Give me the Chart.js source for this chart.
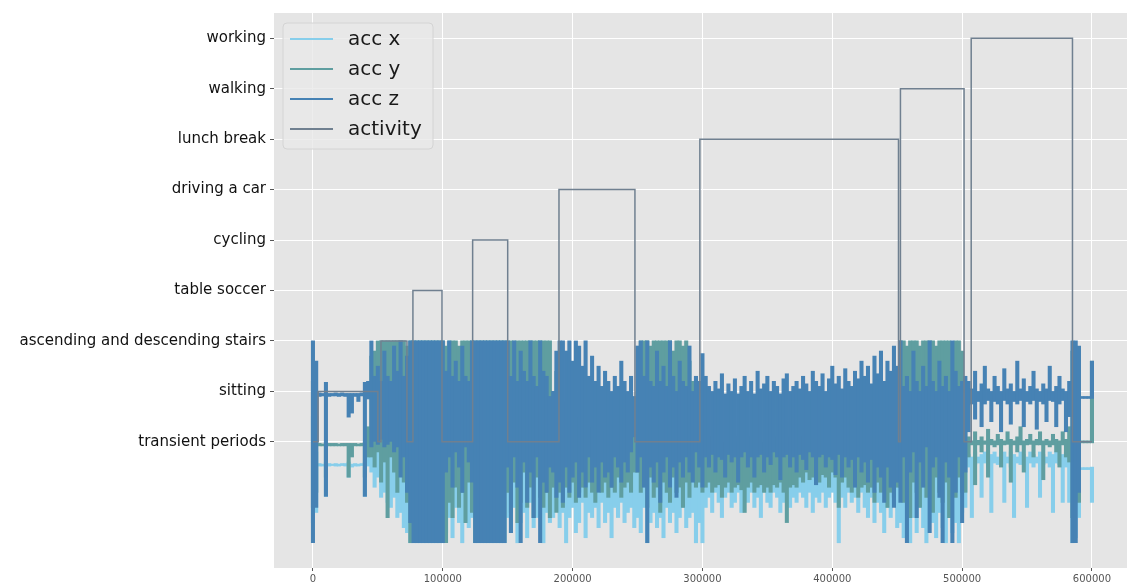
<!DOCTYPE html>
<html>
<head>
<meta charset="utf-8">
<script src="https://cdn.jsdelivr.net/npm/chart.js@4"></script>
<style>
  html, body { margin: 0; padding: 0; background: #ffffff; }
  #wrap { width: 1127px; height: 585px; position: relative; }
</style>
</head>
<body>
<div id="wrap"><canvas id="chart"></canvas></div>
<script>
// y tick labels (activity codes 0..8)
const activityNames = [
  "transient periods", "sitting", "ascending and descending stairs",
  "table soccer", "cycling", "driving a car", "lunch break", "walking", "working"
];
const xTicks = [0, 100000, 200000, 300000, 400000, 500000, 600000];

// the raw signal is far denser than the pixels, so each series is kept as
// min / max per block of 2500 rows
const sampleStep = 2500;

const xLow = [
  -1.6, -1.4,
  -0.48, -0.48, -1.08, -0.48, -0.47, -0.48, -0.48, -0.47, -0.48, -0.7, -0.5, -0.48, -0.48, -0.47, -1.08, -0.48,
  -0.6, -0.9, -0.7, -1.1, -1.0, -1.2, -1.3, -1.1, -1.5, -1.4, -1.7, -1.8,
  -2.0, -2.0, -2.0, -2.0, -2.0, -2.0, -2.0, -2.0, -2.0, -2.0,
  -2.0, -1.8, -1.5, -1.9, -1.3, -1.6, -2.0, -1.4, -1.7, -1.5,
  -2.0, -2.0, -2.0, -2.0, -2.0, -2.0, -2.0, -2.0, -2.0, -2.0,
  -1.5, -1.8, -1.3, -2.0, -1.6, -1.4, -1.9, -1.2, -1.7, -1.5, -1.3, -2.0, -1.4, -1.6, -1.5, -1.3,
  -1.7, -1.4, -2.0, -1.5, -1.3, -1.8, -1.6, -1.2, -1.9, -1.4, -1.5, -1.3,
  -1.7, -1.2, -1.6, -1.4, -1.9, -1.3, -1.5, -1.2, -1.6, -1.4, -1.3, -1.7,
  -1.5, -1.8, -1.3, -2.0, -1.6, -1.4, -1.7, -1.5, -1.9, -1.3,
  -1.6, -1.4, -1.8, -1.5, -1.3, -1.7, -1.5, -1.4, -2.0, -1.6,
  -2.0, -1.3, -1.1, -1.4, -1.0, -1.2, -1.5, -1.1, -1.0, -1.3,
  -1.2, -1.0, -1.4, -1.1, -1.2, -1.0, -1.3, -1.1, -1.5, -1.0,
  -1.2, -1.3, -1.0, -1.1, -1.4, -1.2, -1.0, -1.3, -1.1, -1.2,
  -1.0, -1.1, -1.3, -1.0, -1.4, -1.1, -1.2, -1.0, -1.3, -1.1,
  -1.0, -1.2, -2.0, -1.1, -1.3, -1.0, -1.2, -1.1, -1.4, -1.0,
  -1.3, -1.5, -1.1, -1.6, -1.2, -1.4, -1.8, -1.3, -1.5, -1.2, -1.7,
  -1.6, -1.9, -1.4, -2.0, -1.5, -1.8, -1.3, -1.7, -2.0, -1.5,
  -1.6, -1.9, -1.4, -1.7, -2.0, -1.5, -1.8, -1.6, -2.0, -1.4,
  -1.3, -0.5, -1.5, -0.45, -0.42, -1.1, -0.42, -0.5, -1.4, -0.42, -0.45,
  -0.42, -1.2, -0.42, -0.5, -1.5, -0.42, -0.45, -0.42, -1.3, -0.42, -0.5,
  -0.42, -1.1, -0.45, -0.42, -0.5, -1.4, -0.42, -0.45, -1.2, -0.5, -1.2,
  -2.0, -1.9, -1.5,
  -0.55, -0.55, -0.55, -1.2
];
const xHigh = [
  0.5, -0.2,
  -0.43, -0.44, -0.4, -0.43, -0.44, -0.43, -0.44, -0.43, -0.43, -0.4, -0.44, -0.43, -0.44, -0.43, -0.4, -0.3,
  0.0, 0.1, 0.0, -0.1, 0.0, 0.05, 0.0, -0.1, 0.0, 0.0, 0.1, 0.0,
  0.5, 0.5, 0.5, 0.5, 0.5, 0.5, 0.5, 0.5, 0.5, 0.5,
  0.0, 0.0, 0.0, 0.0, 0.0, 0.0, 0.0, 0.0, 0.0, 0.0,
  0.5, 0.5, 0.5, 0.5, 0.5, 0.5, 0.5, 0.5, 0.5, 0.5,
  0.0, -0.2, 0.0, -0.1, 0.0, -0.2, 0.0, -0.1, 0.0, -0.2, 0.0, -0.1, 0.0, -0.2, 0.0, -0.1,
  -0.3, -0.2, -0.4, -0.3, -0.2, -0.3, -0.4, -0.3, -0.2, -0.3, -0.4, -0.3,
  -0.2, -0.3, -0.4, -0.3, -0.2, -0.3, -0.4, -0.3, -0.2, -0.3, -0.4, -0.3,
  -0.2, -0.1, -0.3, -0.2, -0.1, -0.2, -0.3, -0.2, -0.1, -0.2,
  -0.3, -0.2, -0.1, -0.2, -0.3, -0.2, -0.1, -0.2, -0.3, -0.2,
  -0.4, -0.3, -0.4, -0.5, -0.4, -0.3, -0.4, -0.5, -0.4, -0.3,
  -0.4, -0.5, -0.4, -0.3, -0.4, -0.5, -0.4, -0.3, -0.4, -0.5,
  -0.4, -0.3, -0.4, -0.5, -0.4, -0.3, -0.4, 0.0, 0.1, -0.1,
  0.0, 0.1, 0.0, -0.1, 0.1, 0.0, -0.1, 0.0, 0.1, 0.0,
  -0.1, 0.0, 0.1, -0.1, -0.3, -0.4, -0.3, -0.2, -0.3, -0.4,
  -0.3, -0.2, -0.3, -0.4, -0.3, -0.2, -0.3, -0.4, -0.3, -0.2, -0.3,
  -0.2, -0.2, -0.3, -0.2, -0.2, -0.2, -0.3, -0.2, -0.2, -0.2,
  -0.3, -0.2, -0.2, -0.2, -0.3, -0.2, -0.2, -0.2, -0.3, -0.2,
  -0.2, -0.25, -0.3, -0.2, -0.3, -0.25, -0.2, -0.3, -0.25, -0.2, -0.3,
  -0.25, -0.2, -0.3, -0.2, -0.25, -0.3, -0.2, -0.25, -0.3, -0.2, -0.25,
  -0.3, -0.2, -0.25, -0.3, -0.2, -0.25, -0.2, -0.3, -0.25, -0.2, -0.3,
  0.3, 0.0, -0.2,
  -0.51, -0.51, -0.51, -0.5
];

const yLow = [
  -1.3, -1.0,
  -0.08, -0.08, -0.7, -0.08, -0.08, -0.08, -0.08, -0.08, -0.08, -0.7, -0.3, -0.08, -0.08, -0.08, -0.7, -0.3,
  -0.3, -0.5, -0.2, -0.8, -0.4, -1.5, -0.3, -0.6, -1.0, -0.5, -0.8, -1.2,
  -2.0, -2.0, -2.0, -2.0, -2.0, -2.0, -2.0, -2.0, -2.0, -2.0,
  -2.0, -2.0, -1.2, -1.5, -0.9, -1.3, -1.0, -1.6, -0.8, -1.4,
  -2.0, -2.0, -2.0, -2.0, -2.0, -2.0, -2.0, -2.0, -2.0, -2.0,
  -1.0, -1.4, -0.8, -1.6, -1.2, -0.6, -1.3, -0.9, -1.5, -0.7, -1.1, -1.3, -1.0, -1.5, -0.9, -1.4,
  -1.0, -1.3, -0.9, -1.1, -0.8, -1.2, -1.0, -0.9, -1.1, -0.8, -1.0, -1.2,
  -0.9, -1.0, -0.8, -1.1, -0.9, -1.0, -0.7, -1.1, -0.9, -0.8, -1.0, -0.6,
  -0.6, -1.0, -0.8, -1.3, -0.7, -1.1, -0.9, -1.4, -0.8, -1.0,
  -1.2, -0.7, -1.0, -0.9, -1.3, -0.8, -1.1, -0.7, -0.9, -0.8,
  -1.0, -0.9, -0.8, -1.0, -0.9, -0.85, -1.1, -0.9, -0.8, -1.0,
  -0.9, -0.85, -0.95, -1.4, -0.9, -0.8, -1.0, -0.9, -0.85, -1.0,
  -0.9, -1.0, -0.85, -0.9, -0.8, -1.0, -1.6, -0.9, -0.85, -0.9,
  -0.7, -0.8, -0.6, -0.75, -0.7, -0.6, -0.8, -0.65, -0.7, -0.9,
  -0.6, -0.7, -1.3, -0.8, -0.7, -0.9, -1.0, -0.8, -1.1, -0.9,
  -0.85, -1.0, -0.9, -1.2, -0.8, -1.0, -0.9, -1.3, -1.0, -1.1, -0.9,
  -0.9, -1.2, -0.7, -1.5, -0.8, -1.0, -1.3, -0.6, -1.1, -0.9,
  -1.4, -0.7, -1.0, -1.2, -0.8, -1.5, -0.9, -1.1, -0.7, -1.0,
  -1.0, -0.3, -0.06, -0.85, -0.06, -0.2, -0.05, -0.7, -0.06, -0.1, -0.06,
  -0.5, -0.06, -0.05, -0.8, -0.06, -0.2, -0.06, -0.6, -0.06, -0.05, -0.3,
  -0.06, -0.06, -0.75, -0.06, -0.1, -0.06, -0.2, -0.5, -0.06, -0.3, -0.4,
  -1.5, -1.0, -1.2,
  -0.02, -0.02, -0.02, -0.02
];
const yHigh = [
  1.2, 0.5,
  -0.03, -0.04, 0.0, -0.03, -0.03, -0.03, -0.04, -0.03, -0.03, -0.03, -0.03, -0.03, -0.04, -0.03, 0.0, 0.3,
  1.7, 1.8, 2.0, 2.0, 2.0, 2.0, 2.0, 2.0, 2.0, 2.0, 2.0, 1.9,
  2.0, 2.0, 2.0, 2.0, 2.0, 2.0, 2.0, 2.0, 2.0, 2.0,
  2.0, 1.9, 2.0, 2.0, 2.0, 1.9, 2.0, 2.0, 2.0, 2.0,
  2.0, 2.0, 2.0, 2.0, 2.0, 2.0, 2.0, 2.0, 2.0, 2.0,
  2.0, 2.0, 2.0, 2.0, 2.0, 2.0, 2.0, 2.0, 2.0, 2.0, 2.0, 2.0, 2.0, 2.0, 1.0, 1.4,
  0.6, 0.8, 0.5, 0.4, 0.6, 0.3, 0.5, 0.2, 0.4, 0.3, 0.2, 0.4,
  0.3, 0.1, 0.2, 0.3, 0.0, 0.2, 0.1, 0.3, 0.2, 0.0, 0.3, 0.5,
  1.0, 2.0, 2.0, 2.0, 1.9, 2.0, 2.0, 2.0, 2.0, 2.0,
  2.0, 1.8, 2.0, 2.0, 1.9, 2.0, 1.6, 1.2, 0.8, 0.5,
  0.1, 0.0, 0.1, -0.1, 0.0, 0.1, 0.0, -0.1, 0.1, 0.0,
  0.0, 0.1, -0.1, 0.0, 0.1, 0.0, 0.0, 0.1, -0.1, 0.0,
  0.1, 0.0, 0.0, 0.1, -0.1, 0.0, 0.1, 0.0, 0.0, 0.1,
  0.0, 0.1, 0.2, 0.0, 0.1, 0.2, 0.3, 0.1, 0.2, 0.0,
  0.2, 0.1, 0.3, 0.0, 0.1, 0.2, 0.0, 0.1, 0.2, 0.0,
  0.1, 0.0, 0.2, 0.1, 0.0, 0.2, 0.1, 0.3, 0.2, 0.4, 0.3,
  2.0, 2.0, 1.9, 2.0, 2.0, 2.0, 1.9, 2.0, 2.0, 2.0,
  2.0, 1.9, 2.0, 2.0, 2.0, 2.0, 1.9, 2.0, 2.0, 1.8,
  0.3, 0.1, 0.02, 0.2, 0.03, 0.1, 0.02, 0.25, 0.05, 0.02, 0.15,
  0.05, 0.02, 0.2, 0.05, 0.02, 0.1, 0.3, 0.02, 0.05, 0.15, 0.02,
  0.05, 0.2, 0.02, 0.05, 0.02, 0.15, 0.05, 0.02, 0.2, 0.05, 0.3,
  1.8, 1.4, 1.0,
  0.02, 0.02, 0.02, 1.6
];

const zLow = [
  -2.0, -1.3,
  0.9, 0.91, -1.08, 0.9, 0.91, 0.91, 0.9, 0.91, 0.9, 0.49, 0.57, 0.9, 0.8, 0.91, -1.08, 0.85,
  -0.1, 0.0, -0.05, 0.05, -0.1, -0.05, 0.0, -0.2, -0.1, -0.7, -0.3, -1.0,
  -1.6, -2.0, -2.0, -2.0, -2.0, -2.0, -2.0, -2.0, -2.0, -2.0,
  -2.0, -0.6, -0.3, -0.9, -0.2, -0.5, -1.0, -0.1, -0.4, -0.8,
  -2.0, -2.0, -2.0, -2.0, -2.0, -2.0, -2.0, -2.0, -2.0, -2.0,
  -0.5, -1.8, -0.3, -0.9, -2.0, -0.4, -1.2, -0.6, -1.5, -0.3, -2.0, -0.8, -1.0, -0.5, -0.6, -1.1,
  -0.8, -1.2, -0.5, -1.0, -0.7, -0.4, -1.1, -0.6, -0.9, -0.3, -0.8, -0.5,
  -1.0, -0.4, -0.7, -0.6, -0.9, -0.3, -0.5, -0.8, -0.4, -0.6, -0.2, 0.1,
  -0.6, -0.3, -0.9, -2.0, -0.5, -0.8, -0.4, -1.2, -0.6, -0.3,
  -0.9, -0.5, -1.1, -0.4, -0.7, -0.3, -0.6, -0.8, -0.2, -0.5,
  -0.9, -0.3, -0.5, -0.25, -0.6, -0.3, -0.35, -0.7, -0.25, -0.4,
  -0.3, -0.8, -0.3, -0.2, -0.5, -0.3, -0.7, -0.3, -0.25, -0.6,
  -0.3, -0.45, -0.2, -0.3, -0.75, -0.3, -0.25, -0.5, -0.3, -0.6,
  -0.25, -0.35, -0.55, -0.2, -0.3, -0.85, -0.3, -0.25, -0.5, -0.3,
  -0.35, -0.65, -0.25, -0.7, -0.3, -0.5, -0.35, -0.9, -0.3, -0.6,
  -0.4, -0.8, -0.35, -1.0, -0.5, -0.7, -1.2, -0.5, -0.9, -1.3, -0.8,
  -1.2, -0.3, -2.0, -0.6, -0.2, -1.5, -0.4, -0.9, -0.1, -1.8,
  -0.5, -0.3, -1.1, -2.0, -0.4, -0.7, -2.0, -1.0, -0.3, -1.6,
  -0.6, 0.2, 0.75, 0.45, 0.8, 0.3, 0.75, 0.82, 0.4, 0.8, 0.75,
  0.2, 0.82, 0.75, 0.35, 0.8, 0.75, 0.82, 0.3, 0.8, 0.75, 0.82,
  0.25, 0.8, 0.75, 0.4, 0.82, 0.8, 0.3, 0.75, 0.82, 0.2, 0.5,
  -2.0, -2.0, -1.0,
  0.86, 0.86, 0.86, 0.86
];
const zHigh = [
  2.0, 1.6,
  0.97, 0.96, 1.18, 0.96, 0.96, 0.97, 0.96, 0.97, 0.96, 0.96, 0.96, 0.96, 0.96, 0.97, 1.18, 1.2,
  2.0, 1.3, 1.5, 1.2, 1.8, 1.3, 1.2, 1.9, 1.4, 2.0, 1.3, 1.7,
  2.0, 2.0, 2.0, 2.0, 2.0, 2.0, 2.0, 2.0, 2.0, 2.0,
  2.0, 1.4, 2.0, 1.3, 1.6, 1.2, 1.9, 1.3, 1.2, 2.0,
  2.0, 2.0, 2.0, 2.0, 2.0, 2.0, 2.0, 2.0, 2.0, 2.0,
  2.0, 1.3, 2.0, 1.2, 1.8, 1.4, 1.2, 2.0, 1.3, 1.1, 2.0, 1.4, 1.3, 0.9, 1.0, 1.8,
  2.0, 2.0, 1.8, 2.0, 1.6, 2.0, 1.9, 1.5, 2.0, 1.3, 1.7, 1.2,
  1.5, 1.1, 1.4, 1.2, 1.0, 1.3, 1.1, 1.6, 1.2, 1.0, 1.3, 0.9,
  1.9, 2.0, 1.3, 2.0, 1.2, 1.1, 1.8, 1.2, 1.5, 1.1,
  2.0, 1.3, 1.0, 1.6, 1.2, 1.1, 1.9, 1.0, 1.3, 1.2,
  1.75, 1.3, 1.1, 1.0, 1.2, 1.05, 1.35, 0.95, 1.15, 1.0,
  1.25, 0.95, 1.1, 1.3, 1.0, 1.2, 0.95, 1.4, 1.05, 1.15,
  1.3, 1.0, 1.2, 1.1, 0.95, 1.25, 1.35, 1.0, 1.1, 1.2,
  1.05, 1.3, 1.15, 1.0, 1.4, 1.2, 1.1, 1.35, 1.0, 1.25,
  1.5, 1.15, 1.3, 1.05, 1.45, 1.2, 1.1, 1.4, 1.25, 1.6,
  1.3, 1.5, 1.15, 1.7, 1.35, 1.8, 1.2, 1.6, 1.4, 1.9, 1.5,
  2.0, 1.1, 1.3, 1.0, 1.8, 1.2, 1.0, 1.5, 1.1, 2.0,
  1.2, 1.0, 1.6, 1.1, 1.3, 1.0, 2.0, 1.4, 1.1, 1.2,
  1.3, 1.2, 1.05, 1.4, 1.0, 1.15, 1.5, 1.05, 1.0, 1.3, 1.1,
  1.0, 1.45, 1.05, 1.15, 1.0, 1.6, 1.05, 1.25, 1.0, 1.1, 1.4,
  1.05, 1.0, 1.15, 1.05, 1.5, 1.0, 1.1, 1.3, 1.05, 1.0, 1.2,
  2.0, 2.0, 1.9,
  0.9, 0.9, 0.9, 1.6
];

// activity label: row where each level starts, and its level
const activityStart = [0, 4000, 50000, 52400, 72400, 77000, 99400, 123000, 150000,
  189500, 248000, 298000, 451000, 452500, 501500, 507000, 585000, 600000];
const activityLevel = [0, 1, 0, 2, 0, 3, 0, 4, 0, 5, 0, 6, 0, 7, 0, 8, 0, 0];

const band = (lo, hi) => lo.map((v, i) => ({ x: i * sampleStep, y: [v, hi[i]] }));

// ggplot grey panel behind everything
const panelBackground = {
  id: "panelBackground",
  beforeDraw(chart) {
    const { ctx, chartArea } = chart;
    ctx.save();
    ctx.fillStyle = "#e5e5e5";
    ctx.fillRect(chartArea.left, chartArea.top,
      chartArea.right - chartArea.left, chartArea.bottom - chartArea.top);
    ctx.restore();
  },
};

// legend box inside the axes, upper left
const insideLegend = {
  id: "insideLegend",
  afterDraw(chart) {
    const { ctx, chartArea } = chart;
    const x0 = chartArea.left + 9;
    const y0 = chartArea.top + 10;
    const w = 150, h = 126;
    ctx.save();
    ctx.beginPath();
    ctx.roundRect(x0, y0, w, h, 4);
    ctx.fillStyle = "rgba(232, 232, 232, 0.8)";
    ctx.fill();
    ctx.strokeStyle = "#d4d4d4";
    ctx.lineWidth = 1;
    ctx.stroke();

    ctx.font = "20px 'DejaVu Sans'";
    ctx.textBaseline = "middle";
    chart.data.datasets.forEach((ds, i) => {
      const y = y0 + 16 + i * 30;
      ctx.beginPath();
      ctx.moveTo(x0 + 7, y);
      ctx.lineTo(x0 + 50, y);
      ctx.strokeStyle = ds.borderColor;
      ctx.lineWidth = 2;
      ctx.stroke();
      ctx.fillStyle = "#1a1a1a";
      ctx.fillText(ds.label, x0 + 65, y + 1);
    });
    ctx.restore();
  },
};

Chart.defaults.font.family = "'DejaVu Sans', sans-serif";

const signal = (label, lo, hi, color, order) => ({
  type: "bar",
  label,
  data: band(lo, hi),
  backgroundColor: color,
  borderColor: color,
  borderWidth: 0,
  barThickness: 3.4,
  grouped: false,
  order,
});

new Chart(document.getElementById("chart"), {
  type: "bar",
  data: {
    datasets: [
      signal("acc x", xLow, xHigh, "#87ceeb", 4),
      signal("acc y", yLow, yHigh, "#5f9ea0", 3),
      signal("acc z", zLow, zHigh, "#4682b4", 2),
      {
        type: "line",
        label: "activity",
        data: activityStart.map((x, i) => ({ x, y: activityLevel[i] })),
        borderColor: "#708090",
        borderWidth: 1.5,
        pointRadius: 0,
        stepped: "before",
        order: 1,
      },
    ],
  },
  options: {
    responsive: true,
    maintainAspectRatio: false,
    animation: false,
    layout: { padding: { top: 11, right: 0, left: 0, bottom: 0 } },
    plugins: {
      legend: { display: false },
      tooltip: { enabled: false },
    },
    scales: {
      x: {
        type: "linear",
        offset: false,
        min: -30000,
        max: 627000,
        afterBuildTicks(axis) {
          axis.ticks = xTicks.map((v) => ({ value: v }));
        },
        afterFit(scale) {
          scale.height = 17;
        },
        ticks: {
          callback: (v) => String(v),
          color: "#555555",
          font: { size: 10 },
          padding: 2,
          maxRotation: 0,
          autoSkip: false,
        },
        grid: {
          offset: false,
          color: "#ffffff",
          lineWidth: 1,
          tickColor: "#555555",
          tickLength: 3,
        },
        border: { display: false },
      },
      y: {
        type: "linear",
        min: -2.5,
        max: 8.5,
        afterBuildTicks(axis) {
          axis.ticks = activityNames.map((_, i) => ({ value: i }));
        },
        afterFit(scale) {
          scale.width = 274;
        },
        ticks: {
          callback: (v) => activityNames[v],
          color: "#111111",
          font: { size: 15 },
          padding: 4,
          autoSkip: false,
        },
        grid: {
          color: "#ffffff",
          lineWidth: 1,
          tickColor: "#555555",
          tickLength: 4,
        },
        border: { display: false },
      },
    },
  },
  plugins: [panelBackground, insideLegend],
});
</script>
</body>
</html>
